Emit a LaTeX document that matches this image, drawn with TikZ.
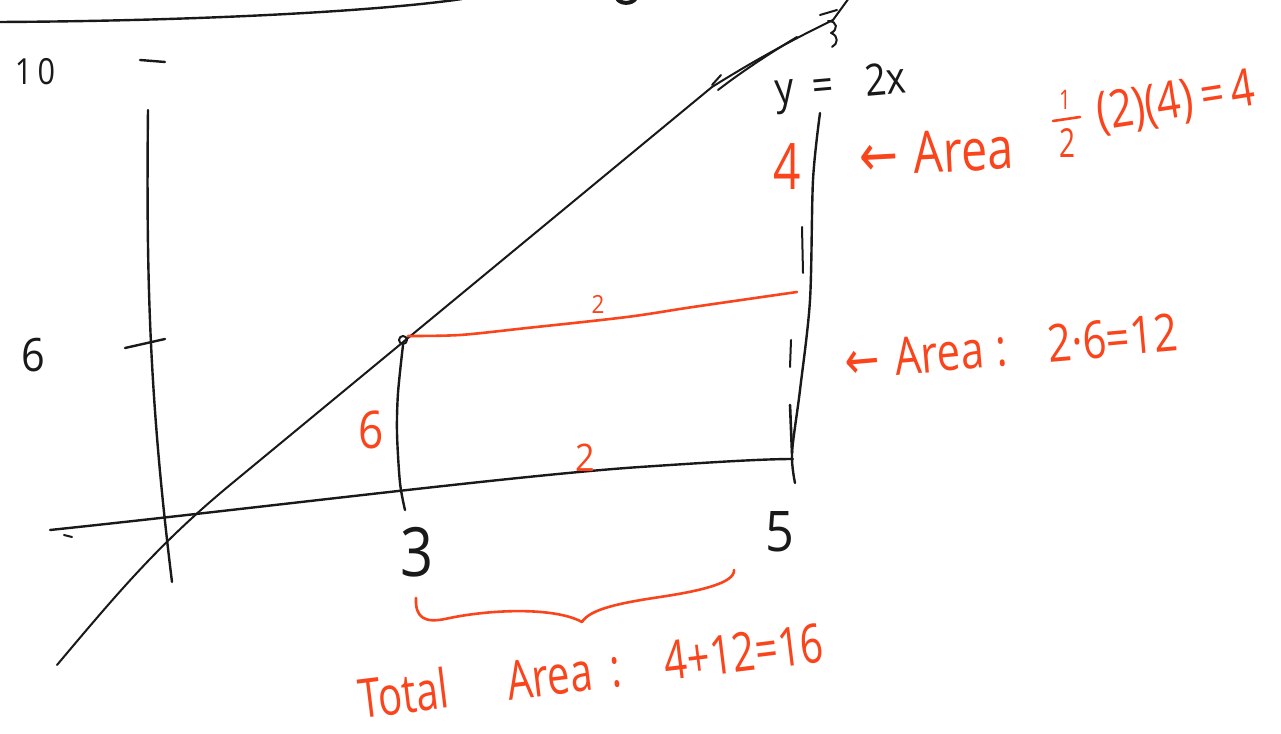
\documentclass[tikz,border=0pt]{standalone}
\usepackage{fontspec}
\usepackage{graphicx}
\setmainfont{Open Sans}
\newfontfamily\arrowfont{DejaVu Sans}
\definecolor{pen}{RGB}{250,68,28}
\definecolor{inkc}{RGB}{25,25,25}
\newcommand\handtxt[3]{\scalebox{#2}[1]{\fontsize{#1}{#1}\selectfont #3}}
\begin{document}
\begin{tikzpicture}[x=1pt,y=1pt,
  ink/.style={draw=inkc, line width=2.4pt, line cap=round, line join=round},
  redline/.style={draw=pen, line width=2.6pt, line cap=round, line join=round},
  lbl/.style={inner sep=0pt, anchor=center},
  blk/.style={lbl, text=inkc},
  red/.style={lbl, text=pen}]
\useasboundingbox (0,0) rectangle (1281,733);
\fill[white] (0,0) rectangle (1281,733);

% key points
\coordinate (P3) at (403,393);
\coordinate (P3base) at (405,223);
\coordinate (P5top) at (797,441);

% top stray curve and mark
\draw[ink] (0,711) .. controls (200,712) and (380,722) .. (462,734);
\draw[ink, line width=4pt] (617,735) .. controls (619,729) and (632,728) .. (636,735);

% y axis
\draw[ink] (148,623) .. controls (146,450) and (150,330) .. (172,151);
\draw[ink] (125,385) -- (165,394);
\draw[ink] (140,673) -- (165,671);

% x axis
\draw[ink] (50,203) .. controls (250,224) and (520,258) .. (640,266)
  .. controls (700,270) and (760,274) .. (793,274);
\draw[ink, line width=2pt] (64,198) -- (72,196);

% line y = 2x
\draw[ink, line width=2pt] (57,68) .. controls (120,143) and (160,190) .. (230,248) -- (712,646);
\draw[ink, line width=2pt] (712,646) .. controls (760,676) and (800,697) .. (833,713) -- (849,735);
\draw[ink, line width=2pt] (718,643) .. controls (740,660) and (770,680) .. (797,696);
\draw[ink, line width=2pt] (712,648) -- (721,658);
\draw[ink, line width=2pt] (820,718) -- (837,723);
\draw[ink, line width=2pt] (828,712) .. controls (838,712) and (838,703) .. (831,700)
  .. controls (839,697) and (838,689) .. (832,686);

% vertical at x = 5 (solid + dashed strokes)
\draw[ink] plot[smooth] coordinates {(820,620) (813,553) (810,433) (800,343) (792,280) (795,250)};
\draw[ink, line width=2pt] (802,506) -- (803,460);
\draw[ink, line width=2pt] (791,393) -- (790,366);
\draw[ink, line width=2.6pt] (790,328) -- (792,280);

% vertical at x = 3
\draw[ink] plot[smooth] coordinates {(403,388) (398,340) (397,300) (400,250) (P3base)};
\draw[ink, line width=2pt] (P3) circle (4);

% red horizontal
\draw[redline] plot[smooth] coordinates {(408,397) (460,398) (527,405) (627,416) (693,426) (P5top)};

% red brace
\draw[redline] (416,135) .. controls (415,115) and (425,110) .. (445,114)
  .. controls (490,124) and (555,126) .. (582,111)
  .. controls (590,124) and (620,130) .. (660,136)
  .. controls (700,142) and (735,150) .. (734,163);

% black labels
\node[blk] (ten) at (35,661) {\handtxt{36}{0.85}{1\hspace{6pt}0}};
\node[blk] (six) at (33,378) {\handtxt{46}{0.9}{6}};
\node[blk] (three) at (417,181) {\handtxt{68}{0.85}{3}};
\node[blk] (five) at (780,201) {\handtxt{56}{0.9}{5}};
\node[blk, rotate=5] (eqn) at (841,645) {\handtxt{44}{0.85}{y\hspace{10pt} = \hspace{26pt}2x}};

% red labels
\node[red] (twoA) at (598,429) {\handtxt{25}{0.9}{2}};
\node[red] (twoB) at (585,275) {\handtxt{38}{0.9}{2}};
\node[red] (sixR) at (371,303) {\handtxt{52}{0.85}{6}};
\node[red] (fourR) at (787,566) {\handtxt{64}{0.75}{4}};
\node[red, rotate=3] (areaA) at (936,581) {\handtxt{58}{0.8}{{\arrowfont ←} \hspace{5pt}Area}};
% one half
\node[red] (half1) at (1065,633) {\handtxt{27}{0.75}{1}};
\draw[redline] (1053,612) -- (1080,616);
\node[red] (half2) at (1067,590) {\handtxt{40}{0.7}{2}};
\node[red, rotate=9] (areaAval) at (1176,630) {\handtxt{52}{0.8}{(2)(4)\hspace{10pt}=\hspace{8pt}4}};
\node[red, rotate=5] (areaB) at (1011,386) {\handtxt{52}{0.8}{{\arrowfont ←} \hspace{6pt}Area\hspace{15pt}: \hspace{34pt}2·6=12}};
\node[red, rotate=7] (total) at (591,63) {\handtxt{54}{0.74}{Total \hspace{66pt}Area\hspace{25pt}: \hspace{41pt}4+12=16}};
\end{tikzpicture}
\end{document}
